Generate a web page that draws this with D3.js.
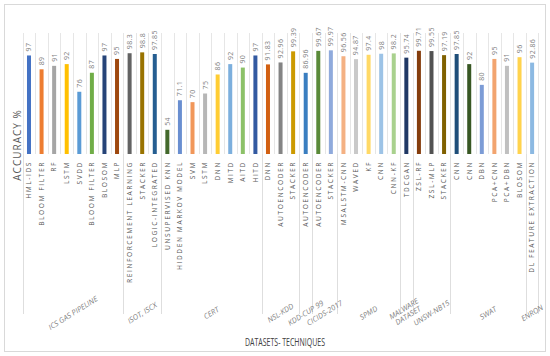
<!DOCTYPE html>
<html>
<head>
<meta charset="utf-8">
<script src="https://cdn.jsdelivr.net/npm/d3@7"></script>
<style>
  body { margin: 0; background: #fff; }
  svg text { font-family: "Open Sans", "Liberation Sans", sans-serif; }
</style>
</head>
<body>
<svg width="550" height="356"></svg>
<script>
// datasets (groups) and how many techniques each one holds
var groups = ["ICS GAS PIPELINE", "ISOT, ISCX", "CERT", "NSL-KDD", "KDD-CUP 99", "CICIDS-2017",
              "SPMD", "MALWARE DATASET", "UNSW-NB15", "SWAT", "ENRON"];
var groupSizes = [8, 3, 8, 3, 1, 2, 5, 1, 3, 6, 1];

var techniques = ["HML-IDS", "BLOOM FILTER", "RF", "LSTM", "SVDD", "BLOOM FILTER", "BLOSOM", "MLP",
  "REINFORCEMENT LEARNING", "STACKER", "LOGIC-INTEGRATED",
  "UNSUPERVISED KNN", "HIDDEN MARKOV MODEL", "SVM", "LSTM", "DNN", "MITD", "AITD", "HITD",
  "DNN", "AUTOENCODER", "STACKER",
  "AUTOENCODER",
  "AUTOENCODER", "STACKER",
  "MSALSTM-CNN", "WAVED", "KF", "CNN", "CNN-KF",
  "TDCGAN",
  "ZSL-RF", "ZSL-MLP", "STACKER",
  "CNN", "CNN", "DBN", "PCA+CNN", "PCA+DBN", "BLOSOM",
  "DL FEATURE EXTRACTION"];

var accuracy = [97, 89, 91, 92, 76, 87, 97, 95,
  98.3, 98.8, 97.85,
  54, 71.1, 70, 75, 86, 92, 90, 97,
  91.83, 92.96, 99.39,
  86.96,
  99.67, 99.97,
  96.56, 94.87, 97.4, 98, 98.2,
  95.74,
  99.71, 99.55, 97.19,
  97.85, 92, 80, 95, 91, 96,
  92.86];

// office palette, as excel cycles it over points
var palette = ["#4472C4", "#ED7D31", "#A5A5A5", "#FFC000", "#5B9BD5", "#70AD47",
  "#264478", "#9E480E", "#636363", "#997300", "#255E91", "#43682B",
  "#698ED0", "#F1975A", "#B7B7B7", "#FFCD33", "#7CAFDD", "#8CC168",
  "#335AA1", "#D26012", "#848484", "#CC9A00", "#3A7EC0", "#5A8A39",
  "#8FAADC", "#F4B183", "#C9C9C9", "#FFD966", "#9DC3E6", "#A9D18E",
  "#203864", "#843C0C", "#525252", "#7F6000", "#1F4E79", "#385723",
  "#7C9CD6", "#F2A46F", "#C0C0C0", "#FFD34D", "#8CB9E2", "#9BC97D"];

var svg = d3.select("svg");

var plotLeft = 22.7, plotRight = 538.4, plotTop = 33, plotBottom = 154;

var x = d3.scaleBand().domain(d3.range(accuracy.length)).range([plotLeft, plotRight]).padding(0);
var y = d3.scaleLinear().domain([40, 110]).range([plotBottom, plotTop]);

// chart border
svg.append("rect")
  .attr("x", 4.5).attr("y", 4.5).attr("width", 541).attr("height", 347)
  .attr("fill", "none").attr("stroke", "#d9d9d9");

// vertical gridlines between categories
var bounds = d3.range(accuracy.length + 1).map(function(i) {
  return i < accuracy.length ? x(i) : x(i - 1) + x.bandwidth();
});
svg.append("g").selectAll("line").data(bounds).enter().append("line")
  .attr("x1", function(d) { return Math.round(d) + 0.5; })
  .attr("x2", function(d) { return Math.round(d) + 0.5; })
  .attr("y1", plotTop).attr("y2", plotBottom)
  .attr("stroke", "#e6e6e6");

// group separators through the label area
var starts = [0];
groupSizes.forEach(function(n, i) { starts.push(starts[i] + n); });
svg.append("g").selectAll("line").data(starts).enter().append("line")
  .attr("x1", function(d) { return Math.round(bounds[d]) + 0.5; })
  .attr("x2", function(d) { return Math.round(bounds[d]) + 0.5; })
  .attr("y1", plotBottom).attr("y2", 314)
  .attr("stroke", "#dedede");

// bars
var bw = 4;
svg.append("g").selectAll("rect").data(accuracy).enter().append("rect")
  .attr("x", function(d, i) { return x(i) + x.bandwidth() / 2 - bw / 2; })
  .attr("y", function(d) { return y(d); })
  .attr("width", bw)
  .attr("height", function(d) { return plotBottom - y(d); })
  .attr("fill", function(d, i) { return palette[i % palette.length]; });

// value labels
svg.append("g").selectAll("text").data(accuracy).enter().append("text")
  .attr("transform", function(d, i) {
    return "translate(" + (x(i) + x.bandwidth() / 2) + "," + (y(d) - 4) + ") rotate(-90)";
  })
  .attr("dy", "0.35em")
  .attr("font-size", 7)
  .attr("letter-spacing", 0.4)
  .attr("fill", "#7f7f7f")
  .text(function(d) { return d; });

// technique labels
svg.append("g").selectAll("text").data(techniques).enter().append("text")
  .attr("transform", function(d, i) {
    return "translate(" + (x(i) + x.bandwidth() / 2) + "," + (plotBottom + 7) + ") rotate(-90)";
  })
  .attr("dy", "0.35em")
  .attr("text-anchor", "end")
  .attr("font-size", 6.6)
  .attr("letter-spacing", 1.6)
  .attr("fill", "#595959")
  .text(function(d) { return d; });

// dataset labels, slanted
svg.append("g").selectAll("text").data(groups).enter().append("text")
  .attr("transform", function(d, i) {
    var cx = (bounds[starts[i]] + bounds[starts[i + 1]]) / 2;
    return "translate(" + cx + ",313) rotate(-32)";
  })
  .attr("text-anchor", "middle")
  .attr("font-family", "'Liberation Sans Narrow', 'DejaVu Sans Condensed', sans-serif")
  .attr("font-style", "italic")
  .attr("font-size", 7.5)
  .attr("fill", "#7f7f7f")
  .each(function(d) {
    var t = d3.select(this);
    if (d === "MALWARE DATASET") {
      t.append("tspan").attr("x", 0).attr("dy", "-0.3em").text("MALWARE");
      t.append("tspan").attr("x", 0).attr("dy", "1.05em").text("DATASET");
    } else {
      t.attr("dy", "0.35em").text(d);
    }
  });

// axis titles
svg.append("text")
  .attr("transform", "translate(17,145) rotate(-90)")
  .attr("text-anchor", "middle")
  .attr("dy", "0.35em")
  .attr("font-size", 10)
  .attr("letter-spacing", 1)
  .attr("fill", "#595959")
  .text("ACCURACY %");

svg.append("text")
  .attr("x", 285).attr("y", 346)
  .attr("text-anchor", "middle")
  .attr("font-family", "'Liberation Sans Narrow', 'DejaVu Sans Condensed', sans-serif")
  .attr("font-size", 11.5)
  .attr("fill", "#404040")
  .attr("textLength", 80)
  .attr("lengthAdjust", "spacingAndGlyphs")
  .text("DATASETS- TECHNIQUES");
</script>
</body>
</html>
